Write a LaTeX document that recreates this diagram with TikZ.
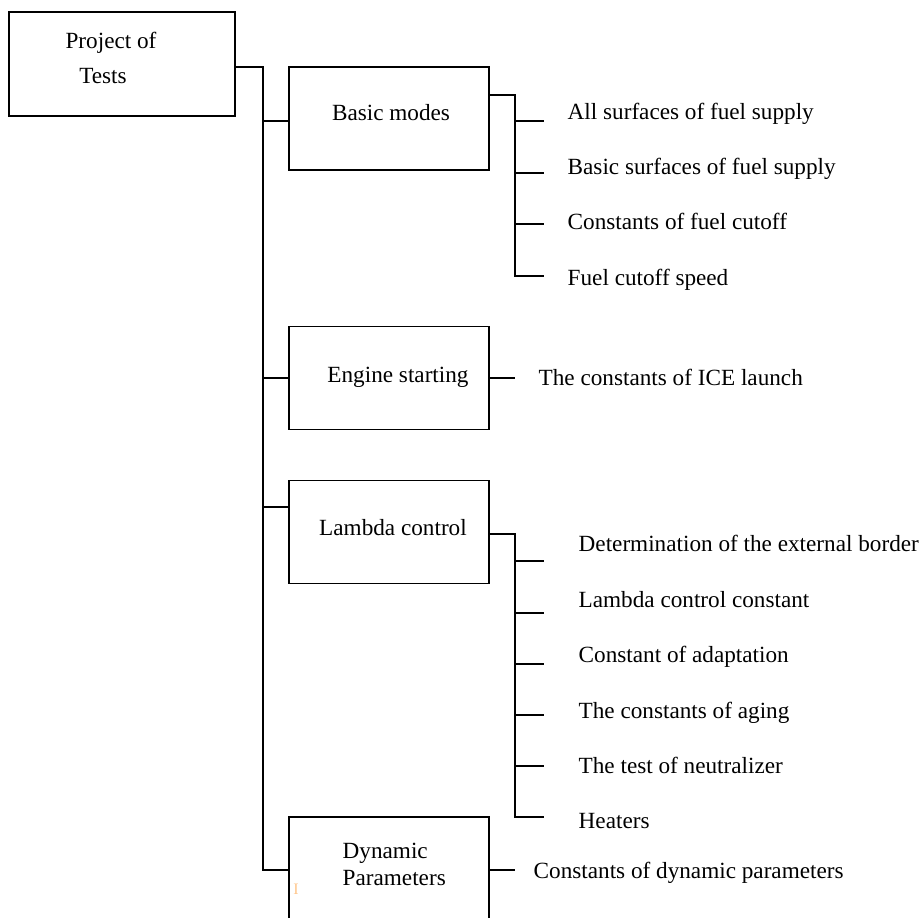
\documentclass[tikz,border=0pt]{standalone}
\usepackage{fontspec}
\setmainfont{Liberation Serif}
\usetikzlibrary{positioning, calc}

\begin{document}
\begin{tikzpicture}[
    x=0.5pt, y=-0.5pt,
    font=\fontsize{11.6}{13.5}\selectfont,
    line width=0.7pt,
    % Boxes
    box/.style    ={draw, line width=0.7pt, minimum width=100pt, minimum height=51.5pt, inner sep=0pt},
    rootbox/.style={box, minimum width=113pt, minimum height=52pt},
    % Texts
    item/.style   ={anchor=west, inner sep=0pt, text height=8pt, text depth=2.5pt},
    title/.style  ={inner sep=0pt, text height=8pt, text depth=2.5pt}
]

% Convenient x-positions for the vertical lines
\def\xT{263}   % main trunk
\def\xB{515}   % sub-trunks
\def\xL{29}    % length of the short branches

\useasboundingbox (0,0) rectangle (919,917);

% ---------------------------- Root ------------------------------------
\node[rootbox] (root) at (122,64) {};
\node[title] (rootA) at (111,43) {Project of};
\node[title] (rootB) at (103,78) {Tests};

% ---------------------------- Groups ----------------------------------
\node[box] (basic)  at (389,118.5) {};
\node[box] (engine) at (389,378)   {};
\node[box] (lambda) at (389,532)   {};
\node[box] (dyn)    at (389,868.5) {};

\node[title] (basicL)  at (391,115) {Basic modes};
\node[title] (engineL) at (398,377) {Engine starting};
\node[title] (lambdaL) at (393,530) {Lambda control};
\node[title, align=left, anchor=west] (dynL) at (342,880) {Dynamic\\Parameters};
\node[text=orange!45, font=\fontsize{8}{9}\selectfont, inner sep=0pt] (cursor) at (296,889) {I};

% Main trunk
\coordinate (tTop) at (\xT,67);
\coordinate (tBot) at (\xT,870);
\draw (root.east |- tTop) -- (tTop) -- (tBot) -- (dyn.west |- tBot);
\coordinate (tB) at (\xT,121);
\coordinate (tE) at (\xT,378);
\coordinate (tL) at (\xT,507);
\draw (tB) -- (basic.west |- tB);
\draw (tE) -- (engine.west |- tE);
\draw (tL) -- (lambda.west |- tL);

% ------------------------- Basic modes --------------------------------
\coordinate (bTop) at (\xB,95);
\coordinate (bBot) at (\xB,276);
\draw (basic.east |- bTop) -- (bTop) -- (bBot) -- ++(\xL,0);
\foreach \y in {121,173,224}
    \draw (\xB,\y) -- ++(\xL,0);

\node[item] (b1) at (567,114) {All surfaces of fuel supply};
\node[item] (b2) at (567,169) {Basic surfaces of fuel supply};
\node[item] (b3) at (567,224) {Constants of fuel cutoff};
\node[item] (b4) at (567,280) {Fuel cutoff speed};

% ------------------------ Engine starting -----------------------------
\coordinate (eEnd) at (\xB,378);
\draw (engine.east |- eEnd) -- (eEnd);
\node[item] (e1) at (538,380) {The constants of ICE launch};

% ------------------------ Lambda control ------------------------------
\coordinate (lTop) at (\xB,534);
\coordinate (lBot) at (\xB,817);
\draw (lambda.east |- lTop) -- (lTop) -- (lBot) -- ++(\xL,0);
\foreach \y in {561,613,664,715,766}
    \draw (\xB,\y) -- ++(\xL,0);

\node[item] (l1) at (578,546) {Determination of the external border};
\node[item] (l2) at (578,602) {Lambda control constant};
\node[item] (l3) at (578,657) {Constant of adaptation};
\node[item] (l4) at (578,713) {The constants of aging};
\node[item] (l5) at (578,768) {The test of neutralizer};
\node[item] (l6) at (578,823) {Heaters};

% ---------------------- Dynamic parameters ----------------------------
\coordinate (dEnd) at (\xB,870);
\draw (dyn.east |- dEnd) -- (dEnd);
\node[item] (d1) at (533,873) {Constants of dynamic parameters};

\end{tikzpicture}
\end{document}
